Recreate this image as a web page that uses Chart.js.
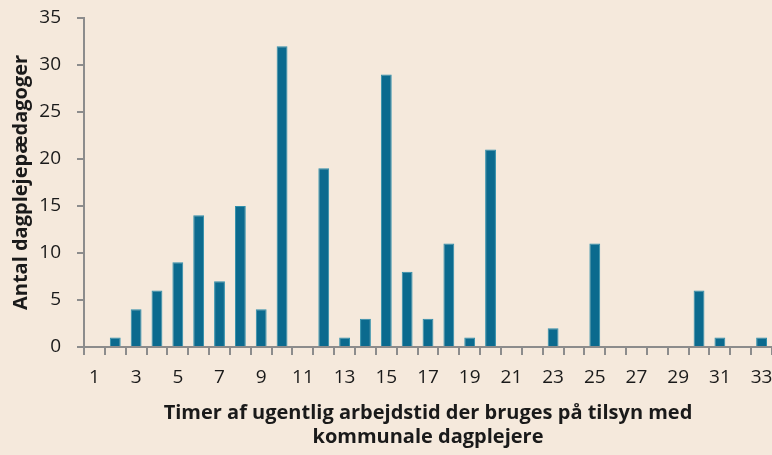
<!DOCTYPE html>
<html><head><meta charset="utf-8">
<script src="https://cdn.jsdelivr.net/npm/chart.js@4"></script>
<style>html,body{margin:0;padding:0;background:#f5e9dc;}#wrap{width:772px;height:455px;}</style>
</head><body><div id="wrap"><canvas id="c" width="772" height="455"></canvas></div>
<script>
const categories = ["1","2","3","4","5","6","7","8","9","10","11","12","13","14","15","16","17","18","19","20","21","22","23","24","25","26","27","28","29","30","31","32","33"];
const values = [0,1,4,6,9,14,7,15,4,32,0,19,1,3,29,8,3,11,1,21,0,0,2,0,11,0,0,0,0,6,1,0,1];
const yTitle = "Antal dagplejepædagoger";
const xTitle = ["Timer af ugentlig arbejdstid der bruges på tilsyn med","kommunale dagplejere"];

const font = "'Open Sans', sans-serif";
new Chart(document.getElementById('c'), {
  type: 'bar',
  data: { labels: categories, datasets: [{ data: values, backgroundColor: '#0b6a8e', borderColor: '#2f8fab', borderWidth: 1, categoryPercentage: 1, barPercentage: 0.52 }] },
  options: {
    responsive: false, animation: false,
    layout: { padding: { top: 0, left: 9, right: 0, bottom: 6 } },
    plugins: { legend: { display: false }, tooltip: { enabled: false } },
    scales: {
      x: {
        afterFit(s) { s.paddingRight = 0; s.paddingLeft = 0; },
        grid: { display: true, drawOnChartArea: false, offset: true, tickLength: 8, color: '#8c8c8c', lineWidth: 2 },
        border: { display: true, color: '#8c8c8c', width: 2 },
        ticks: { autoSkip: false, maxRotation: 0, padding: 18, color: '#1a1a1a', font: { family: font, size: 19, lineHeight: 0.53 },
          callback: function(v, i) { return i % 2 === 0 ? categories[i] : ''; } },
        title: { display: true, text: xTitle, color: '#1a1a1a', font: { family: font, size: 20, weight: 'bold', lineHeight: 1.2 }, padding: { top: 0, bottom: 0 } }
      },
      y: {
        min: 0, max: 35,
        afterFit(s) { s.paddingTop = 18; s.paddingBottom = 0; s.width = 75; },
        grid: { display: true, drawOnChartArea: false, tickLength: 7, color: '#8c8c8c', lineWidth: 2 },
        border: { display: true, color: '#8c8c8c', width: 2 },
        ticks: { stepSize: 5, padding: 16, color: '#1a1a1a', font: { family: font, size: 19 } },
        title: { display: true, text: yTitle, color: '#1a1a1a', font: { family: font, size: 20, weight: 'bold' }, padding: { top: 0, bottom: 0 } }
      }
    }
  },
  plugins: [{ id: 'bg', beforeDraw(ch) { const c = ch.ctx; c.save(); c.fillStyle = '#f5e9dc'; c.fillRect(0,0,ch.width,ch.height); c.restore(); } }]
});
</script></body></html>
